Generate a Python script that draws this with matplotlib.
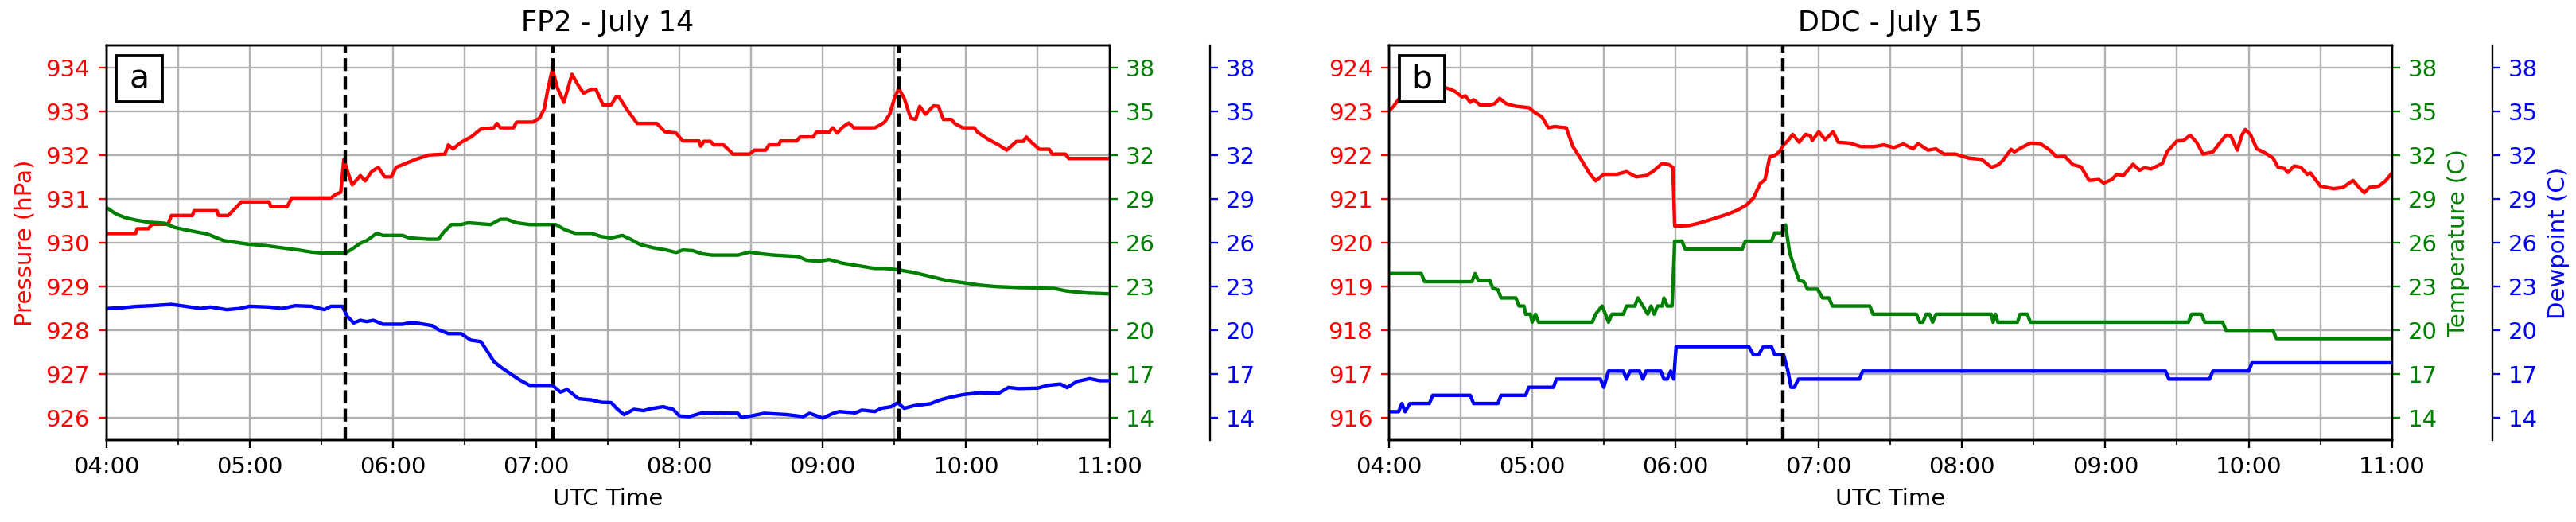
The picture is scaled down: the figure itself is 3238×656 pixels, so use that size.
import numpy as np
import matplotlib
matplotlib.use("Agg")
import matplotlib.pyplot as plt
from matplotlib.patches import Rectangle

# ---------------- data (minutes after 04:00 UTC) ----------------
# Panel a: FP2 - July 14
fp2_p_min = [0, 12.3, 13, 17.7, 19.1, 25.9, 27.3, 36.1, 36.8, 46.4, 47, 51.1, 56.6, 68.2, 68.9, 75.7,
             77.7, 94.1, 96, 98.2, 99.5, 101.5, 103, 106.4, 108.4, 111.1, 113.9, 116.6, 119.3, 121.4,
             125.5, 129.5, 135, 141.8, 143.2, 145.2, 148.6, 152.7, 156.8, 162.3, 163.6, 165, 170.5,
             171.8, 178.6, 181.4, 183.4, 184.8, 186.8, 188.9, 191.6, 195, 197.5, 199.8, 203.2, 205,
             208, 211.4, 213.4, 214.7, 218.2, 222.3, 230.5, 233.9, 238.6, 241.4, 248.2, 248.9, 250.2,
             253, 254.3, 258.4, 262.5, 269.3, 271.4, 276.1, 277.5, 281.6, 282.3, 289.1, 290.5, 296,
             297.3, 302.7, 304.1, 306.1, 308.2, 310.9, 313, 321.8, 323.9, 325.9, 328, 330, 331.8,
             334.1, 336.8, 338.9, 340.6, 343, 346.4, 348.4, 350.5, 353.9, 355.2, 358.6, 363.4, 364.8,
             369.5, 373.6, 377, 381.1, 383.9, 385.2, 387.3, 390.7, 394.8, 396.1, 401.6, 403, 420]
fp2_p = [930.21, 930.21, 930.32, 930.32, 930.42, 930.42, 930.62, 930.62, 930.73, 930.73, 930.62, 930.62,
         930.93, 930.93, 930.82, 930.82, 931.02, 931.02, 931.1, 931.15, 931.9, 931.55, 931.32, 931.53,
         931.41, 931.62, 931.72, 931.5, 931.5, 931.72, 931.81, 931.9, 932.0, 932.02, 932.23, 932.14,
         932.29, 932.41, 932.59, 932.62, 932.72, 932.62, 932.62, 932.75, 932.75, 932.84, 933.05,
         933.47, 933.96, 933.53, 933.2, 933.84, 933.6, 933.41, 933.5, 933.5, 933.14, 933.14, 933.32,
         933.32, 933.02, 932.72, 932.72, 932.53, 932.5, 932.32, 932.32, 932.2, 932.31, 932.31, 932.23,
         932.23, 932.02, 932.02, 932.11, 932.11, 932.23, 932.23, 932.32, 932.32, 932.41, 932.41,
         932.52, 932.52, 932.62, 932.5, 932.63, 932.73, 932.62, 932.62, 932.68, 932.75, 932.93,
         933.29, 933.52, 933.29, 932.84, 932.81, 933.11, 932.93, 933.12, 933.11, 932.81, 932.81,
         932.72, 932.62, 932.62, 932.52, 932.35, 932.23, 932.11, 932.31, 932.31, 932.41, 932.29,
         932.13, 932.13, 932.02, 932.02, 931.92, 931.92]

fp2_t_min = [0, 4.1, 8.2, 12.3, 17.7, 24.5, 28.6, 34.1, 42.3, 49.1, 53.2, 59.3, 66.8, 73.6, 80.5, 85.9,
             90, 100.2, 102.3, 106.4, 109.1, 113.2, 115.9, 124.1, 126.8, 135, 139.1, 141.2, 144.5,
             148.6, 151.4, 154.1, 160.9, 165, 167.7, 171.8, 177.3, 188.2, 192.3, 196.4, 203.2, 207.3,
             211.4, 216.1, 219.5, 223.6, 229.1, 234.5, 238.6, 241.4, 245.5, 249.5, 253.6, 264.5, 269.3,
             274.1, 279.5, 289.8, 293.2, 298.6, 302.7, 308.2, 315, 321.8, 325.9, 331.4, 338.2, 345,
             351.8, 358.6, 365.5, 372.3, 381.8, 396.8, 402.3, 410.5, 420]
fp2_t = [28.42, 27.96, 27.7, 27.55, 27.4, 27.33, 27.05, 26.85, 26.6, 26.15, 26.05, 25.9, 25.8, 25.65,
         25.5, 25.36, 25.3, 25.3, 25.5, 25.96, 26.15, 26.64, 26.5, 26.5, 26.33, 26.24, 26.24, 26.7,
         27.24, 27.24, 27.36, 27.33, 27.24, 27.6, 27.6, 27.36, 27.24, 27.24, 26.87, 26.64, 26.64, 26.42,
         26.33, 26.5, 26.24, 25.87, 25.65, 25.5, 25.33, 25.5, 25.46, 25.24, 25.15, 25.15, 25.36, 25.24,
         25.15, 25.05, 24.8, 24.73, 24.85, 24.6, 24.42, 24.24, 24.24, 24.15, 23.96, 23.69, 23.42, 23.27,
         23.1, 23.0, 22.93, 22.87, 22.69, 22.56, 22.5]

fp2_td_min = [0, 6.8, 12.3, 19.1, 27.3, 31.4, 39.5, 43.6, 50.5, 55.9, 60, 68.2, 73.6, 79.1, 85.9, 91.4,
              94.1, 98.9, 100.9, 103.6, 106.4, 109.1, 111.8, 115.9, 124.1, 126.8, 129.5, 136.4, 139.1,
              143.2, 148.6, 152.7, 156.8, 159.5, 162.3, 165, 169.1, 173.2, 177.3, 186.8, 190.2, 193,
              197.7, 203.2, 207.3, 211.4, 214.1, 216.8, 220.9, 225, 227.7, 233.2, 237.3, 240, 244.1,
              249.5, 264.5, 265.9, 270, 275.5, 285, 291.8, 294.5, 300, 304.1, 306.8, 313.6, 316.4, 321.8,
              324.5, 328.6, 331.4, 334.1, 338.2, 345, 349.1, 353.2, 358.6, 365.5, 373.6, 377.7, 381.8,
              390, 394.1, 399.5, 402.3, 406.4, 411.8, 415.9, 420]
fp2_td = [21.5, 21.55, 21.64, 21.69, 21.78, 21.69, 21.5, 21.6, 21.42, 21.5, 21.65, 21.6, 21.5, 21.69,
          21.65, 21.42, 21.65, 21.65, 20.96, 20.51, 20.69, 20.6, 20.69, 20.42, 20.42, 20.51, 20.51,
          20.33, 20.05, 19.78, 19.78, 19.33, 19.24, 18.6, 17.87, 17.51, 17.05, 16.6, 16.24, 16.24,
          15.78, 15.96, 15.33, 15.24, 15.08, 15.06, 14.6, 14.24, 14.6, 14.51, 14.64, 14.78, 14.6, 14.15,
          14.1, 14.36, 14.33, 14.05, 14.15, 14.33, 14.24, 14.1, 14.33, 14.0, 14.31, 14.45, 14.36, 14.55,
          14.45, 14.67, 14.78, 15.05, 14.67, 14.85, 14.98, 15.24, 15.42, 15.6, 15.73, 15.69, 16.1, 16.02,
          16.05, 16.24, 16.33, 16.09, 16.51, 16.7, 16.56, 16.56]

fp2_events = [100, 187, 332]

# Panel b: DDC - July 15
ddc_p_min = [0, 2, 4.8, 12, 20, 23.9, 25.9, 28, 30.7, 32, 34.1, 35.5, 38.2, 42.3, 44.3, 46.4, 49.1, 53.2,
             58.6, 61.4, 64.1, 66.8, 69.5, 74.3, 77, 80.5, 83.9, 86.6, 90, 95.5, 99.5, 103.6, 107.7,
             110.5, 114.5, 117.3, 118.9, 119.7, 125.5, 129.5, 135, 141.8, 145.9, 150, 152.7, 155.5,
             157.5, 159.5, 161.6, 163.6, 165.3, 167, 169.1, 171.8, 174.5, 176.5, 177.3, 180, 182.7, 186,
             188.2, 193, 197.7, 203, 207.3, 211.4, 215.5, 219.5, 221.6, 225.7, 229, 232.5, 237.3, 242.7,
             248.2, 252.3, 255, 257, 260.5, 261.9, 264.6, 268.6, 272.7, 276.8, 279.5, 283, 286.4, 289.8,
             293.2, 297.3, 299.3, 302.7, 304.8, 307.5, 311.6, 314.3, 316.4, 319.1, 323.9, 325.9, 330,
             332.7, 335.5, 338.2, 340.9, 345, 347.7, 350.5, 352.5, 355.2, 357.3, 358.6, 360.7, 363.4,
             366.8, 370.2, 372.3, 375, 376.4, 379.1, 381.8, 384.5, 385.9, 390, 392.7, 395.5, 399.5,
             403.7, 405.7, 408.4, 410.5, 414.5, 417.3, 420]
ddc_p = [923.0, 923.11, 923.32, 923.55, 923.6, 923.53, 923.5, 923.44, 923.32, 923.35, 923.2, 923.26,
         923.14, 923.14, 923.17, 923.29, 923.17, 923.11, 923.08, 922.96, 922.87, 922.62, 922.65, 922.62,
         922.2, 921.9, 921.59, 921.41, 921.56, 921.56, 921.62, 921.5, 921.53, 921.62, 921.81, 921.78,
         921.72, 920.38, 920.39, 920.44, 920.53, 920.65, 920.74, 920.87, 921.02, 921.35, 921.44, 921.96,
         921.99, 922.08, 922.23, 922.32, 922.47, 922.29, 922.47, 922.44, 922.33, 922.53, 922.35, 922.53,
         922.29, 922.27, 922.19, 922.19, 922.23, 922.17, 922.25, 922.14, 922.26, 922.11, 922.14, 922.02,
         922.02, 921.93, 921.9, 921.72, 921.77, 921.87, 922.13, 922.07, 922.16, 922.27, 922.26, 922.11,
         921.96, 921.97, 921.78, 921.73, 921.42, 921.44, 921.36, 921.44, 921.56, 921.53, 921.79, 921.65,
         921.71, 921.68, 921.81, 922.08, 922.32, 922.33, 922.45, 922.29, 922.02, 922.07, 922.26, 922.45,
         922.44, 922.11, 922.47, 922.58, 922.47, 922.14, 922.05, 921.93, 921.72, 921.69, 921.6, 921.75,
         921.72, 921.56, 921.59, 921.29, 921.26, 921.23, 921.26, 921.42, 921.29, 921.14, 921.26, 921.29,
         921.41, 921.59]

ddc_t_min = [0, 13.6, 15, 34.8, 36.1, 37.5, 42.3, 43.6, 45.7, 47, 53.2, 54.5, 56.6, 57.3, 59.3, 60, 61.4,
             62.7, 85.2, 86.6, 89.3, 90.7, 92, 93.4, 98.2, 99.5, 103, 104.3, 106.4, 108.4, 109.8, 111.1,
             112.5, 114.5, 115.2, 116.6, 118.6, 119.7, 122.7, 124.1, 148, 149.3, 160.2, 161.6, 164.5,
             166.1, 167.8, 169.8, 171.8, 173.8, 175.3, 179.5, 181.6, 184.3, 185.7, 201.4, 202.7, 220.9,
             222.3, 223.6, 225, 226.4, 227.7, 229.1, 252.3, 253, 254, 255, 263.2, 264.3, 267.3, 268.6,
             334.8, 336.1, 340.2, 341.6, 349.1, 350.5, 370.2, 371.6, 420]
ddc_t = [23.89, 23.89, 23.33, 23.33, 23.89, 23.42, 23.42, 22.87, 22.78, 22.22, 22.22, 21.67, 21.67,
         21.11, 21.11, 20.56, 21.11, 20.56, 20.56, 21.11, 21.67, 21.11, 20.56, 21.11, 21.11, 21.67,
         21.67, 22.22, 21.67, 21.11, 21.67, 21.11, 21.67, 21.67, 22.22, 21.67, 21.67, 26.11, 26.11,
         25.56, 25.56, 26.11, 26.11, 26.67, 26.67, 27.22, 25.33, 24.33, 23.42, 23.33, 22.82, 22.82,
         22.22, 22.22, 21.67, 21.67, 21.11, 21.11, 20.56, 20.56, 21.11, 21.11, 20.56, 21.11, 21.11,
         20.56, 21.11, 20.56, 20.56, 21.11, 21.11, 20.56, 20.56, 21.11, 21.11, 20.56, 20.56, 20.0,
         20.0, 19.44, 19.44]

ddc_td_min = [0, 4.1, 5.5, 6.8, 8.9, 17, 18.4, 34.1, 35.5, 45.7, 47, 57.3, 58.6, 68.9, 70.2, 88.6, 90,
              92, 98.2, 99.5, 101, 105, 106.4, 107.7, 113.9, 115.2, 116.6, 118, 119.3, 120.3, 150.7,
              152.7, 154.8, 156.8, 160.2, 161.6, 165.3, 167.1, 168.4, 169.8, 171.5, 197, 198.4, 325.2,
              326.6, 343.6, 345, 360, 361.4, 420]
ddc_td = [14.44, 14.44, 15.0, 14.44, 15.0, 15.0, 15.56, 15.56, 15.0, 15.0, 15.56, 15.56, 16.11, 16.11,
          16.67, 16.67, 16.11, 17.22, 17.22, 16.67, 17.22, 17.22, 16.67, 17.22, 17.22, 16.67, 16.67,
          17.22, 16.67, 18.89, 18.89, 18.33, 18.33, 18.89, 18.89, 18.33, 18.33, 17.22, 16.11, 16.11,
          16.67, 16.67, 17.22, 17.22, 16.67, 16.67, 17.22, 17.22, 17.78, 17.78]

ddc_events = [165]

titles = ["FP2 - July 14", "DDC - July 15"]
panel_labels = ["a", "b"]
p_ticks_a = [926, 927, 928, 929, 930, 931, 932, 933, 934]
p_ticks_b = [916, 917, 918, 919, 920, 921, 922, 923, 924]
t_ticks = [14, 17, 20, 23, 26, 29, 32, 35, 38]
hour_ticks = [4, 5, 6, 7, 8, 9, 10, 11]

# ---------------- figure ----------------
W, H, DPI = 3238, 656, 210
fig = plt.figure(figsize=(W / DPI, H / DPI), dpi=DPI)
plt.rcParams['font.family'] = ['DejaVu Sans']

ax_h = 496 / H
ax_w = 1261 / W
ax_b = (H - 553) / H
lefts = [133.5 / W, 1745.7 / W]

panels = [
    (fp2_p_min, fp2_p, fp2_t_min, fp2_t, fp2_td_min, fp2_td, fp2_events, p_ticks_a),
    (ddc_p_min, ddc_p, ddc_t_min, ddc_t, ddc_td_min, ddc_td, ddc_events, p_ticks_b),
]

def hrs(m):
    return 4 + np.asarray(m, dtype=float) / 60.0

for i, (pm, p, tm, t, dm, td, ev, pticks) in enumerate(panels):
    ax = fig.add_axes([lefts[i], ax_b, ax_w, ax_h])
    axt = ax.twinx()
    axd = ax.twinx()
    axd.spines['right'].set_position(('axes', 1.1))

    ax.plot(hrs(pm), p, color='red', lw=1.5)
    axt.plot(hrs(tm), t, color='green', lw=1.5)
    axd.plot(hrs(dm), td, color='blue', lw=1.5)

    for e in ev:
        axd.axvline(hrs(e), color='black', ls='--', lw=1.5)

    ax.set_xlim(4, 11)
    ax.set_ylim(pticks[0] - 0.5, pticks[-1] + 0.5)
    axt.set_ylim(12.5, 39.5)
    axd.set_ylim(12.5, 39.5)
    ax.set_yticks(pticks)
    axt.set_yticks(t_ticks)
    axd.set_yticks(t_ticks)

    ax.set_xticks(hour_ticks)
    ax.set_xticklabels([f"{h:02d}:00" for h in hour_ticks])
    ax.set_xticks([h + 0.5 for h in hour_ticks[:-1]], minor=True)
    ax.tick_params(axis='x', labelsize=10)
    ax.tick_params(axis='y', colors='red', labelsize=10)
    axt.tick_params(axis='y', colors='green', labelsize=10)
    axd.tick_params(axis='y', colors='blue', labelsize=10)

    ax.grid(True, which='major', axis='both', color='#b0b0b0', lw=0.8)
    ax.grid(True, which='minor', axis='x', color='#b0b0b0', lw=0.8)

    ax.set_xlabel("UTC Time", fontsize=10)
    ax.set_title(titles[i], fontsize=12)
    if i == 0:
        ax.set_ylabel("Pressure (hPa)", color='red', fontsize=10)
    else:
        axt.set_ylabel("Temperature (C)", color='green', fontsize=10)
        axd.set_ylabel("Dewpoint (C)", color='blue', fontsize=10)

    # panel label box
    axd.add_patch(Rectangle((0.0102, 0.857), 0.0455, 0.117, transform=axd.transAxes,
                            facecolor='white', edgecolor='black', lw=1.3, zorder=10,
                            clip_on=False))
    axd.text(0.0330, 0.915, panel_labels[i], transform=axd.transAxes, fontsize=14,
             ha='center', va='center', zorder=11)

fig.savefig("out.png", dpi=DPI)
